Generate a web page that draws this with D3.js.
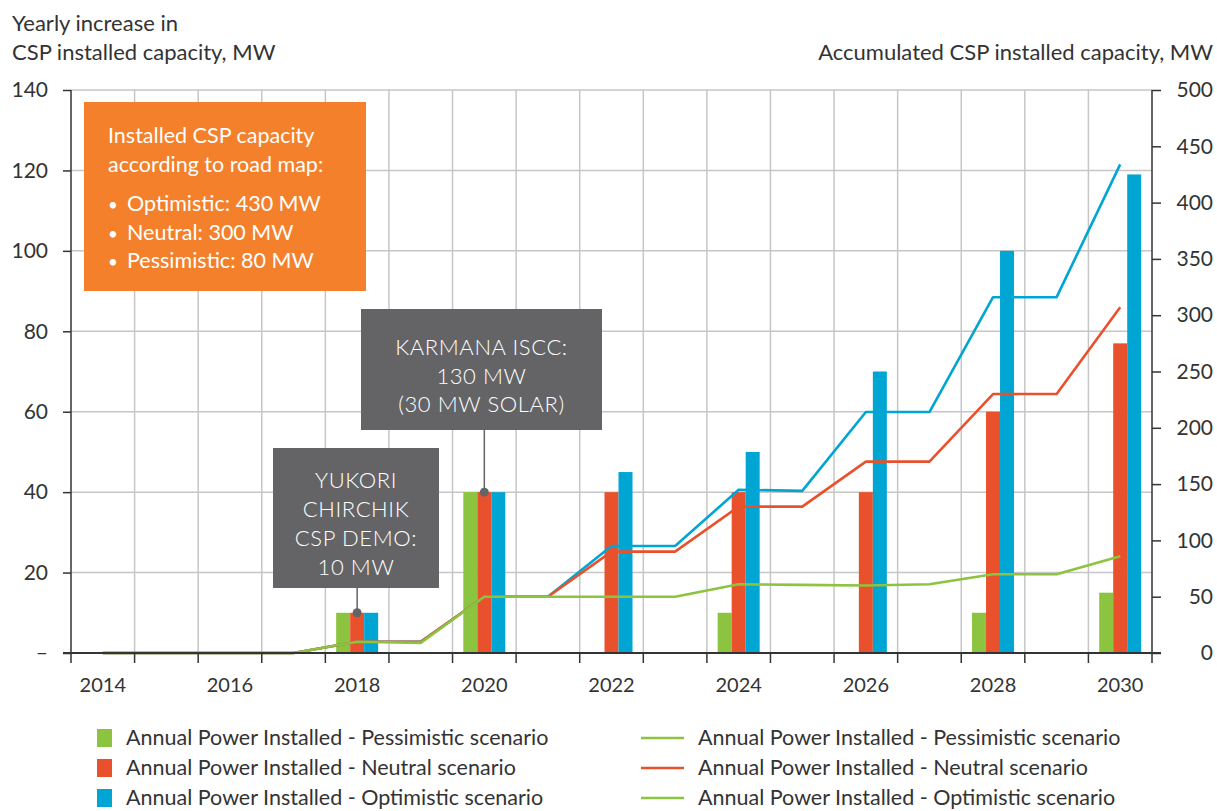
<!DOCTYPE html>
<html>
<head>
<meta charset="utf-8">
<script src="https://cdn.jsdelivr.net/npm/d3@7"></script>
<style>
  body { margin: 0; background: #ffffff; }
  svg text { font-family: Lato, "Noto Sans", sans-serif; }
</style>
</head>
<body>
<div id="chart"></div>
<script>
// data
const years = [2014, 2015, 2016, 2017, 2018, 2019, 2020, 2021, 2022, 2023, 2024, 2025, 2026, 2027, 2028, 2029, 2030];
const yearLabels = [2014, 2016, 2018, 2020, 2022, 2024, 2026, 2028, 2030];

// yearly increase (bars, left axis)
const pessimisticBars = [0, 0, 0, 0, 10, 0, 40, 0, 0, 0, 10, 0, 0, 0, 10, 0, 15];
const neutralBars     = [0, 0, 0, 0, 10, 0, 40, 0, 40, 0, 40, 0, 40, 0, 60, 0, 77];
const optimisticBars  = [0, 0, 0, 0, 10, 0, 40, 0, 45, 0, 50, 0, 70, 0, 100, 0, 119];

// accumulated capacity (lines, right axis)
const pessimisticTotal = [0, 0, 0, 0, 10, 9, 50, 50, 50, 50, 61, 60.5, 60, 61, 70, 70, 86];
const neutralTotal     = [0, 0, 0, 0, 10, 10, 50, 50, 90, 90, 130, 130, 170, 170, 230, 230, 307];
const optimisticTotal  = [0, 0, 0, 0, 10, 10, 50, 50, 95, 95, 145, 144, 214, 214, 316, 316, 434];

const leftTicks = [0, 20, 40, 60, 80, 100, 120, 140];
const rightTicks = [0, 50, 100, 150, 200, 250, 300, 350, 400, 450, 500];

const series = ["pess", "neut", "opt"];
const colors = { pess: "#8cc43f", neut: "#e9512c", opt: "#00a6d3" };

const legendBars = ["Annual Power Installed - Pessimistic scenario",
                    "Annual Power Installed - Neutral scenario",
                    "Annual Power Installed - Optimistic scenario"];
const legendLines = ["Annual Power Installed - Pessimistic scenario",
                     "Annual Power Installed - Neutral scenario",
                     "Annual Power Installed - Optimistic scenario"];
const legendLineColors = [colors.pess, colors.neut, colors.pess];

const width = 1217, height = 811;
const margin = ({top: 90, right: 65, bottom: 158, left: 71});

const svg = d3.select("#chart").append("svg")
    .attr("width", width).attr("height", height);

const x0 = d3.scaleBand()
    .domain(years)
    .range([margin.left, width - margin.right])
    .padding(0);
const bw = x0.bandwidth();
const groupW = 42;
const x1 = d3.scaleBand()
    .domain(series)
    .range([(bw - groupW) / 2, (bw + groupW) / 2]);

const yL = d3.scaleLinear().domain([0, 140]).range([height - margin.bottom, margin.top]);
const yR = d3.scaleLinear().domain([0, 500]).range([height - margin.bottom, margin.top]);

const x0L = margin.left, x0R = width - margin.right;
const yBase = height - margin.bottom;

// grid
const grid = svg.append("g").attr("stroke", "#c6c6c6").attr("stroke-width", 1.5);
grid.selectAll(".hg")
  .data(leftTicks.filter(d => d > 0))
  .join("line")
    .attr("x1", x0L).attr("x2", x0R)
    .attr("y1", d => yL(d)).attr("y2", d => yL(d));
grid.selectAll(".vg")
  .data(years.slice(1))
  .join("line")
    .attr("x1", d => x0(d)).attr("x2", d => x0(d))
    .attr("y1", margin.top).attr("y2", yBase);

// bars
const barData = years.map((yr, i) => ({year: yr, pess: pessimisticBars[i], neut: neutralBars[i], opt: optimisticBars[i]}));
svg.append("g")
  .selectAll("g")
  .data(barData)
  .join("g")
    .attr("transform", d => `translate(${x0(d.year)},0)`)
  .selectAll("rect")
  .data(d => series.map(k => ({key: k, value: d[k]})).filter(e => e.value > 0))
  .join("rect")
    .attr("x", d => x1(d.key))
    .attr("width", x1.bandwidth())
    .attr("y", d => yL(d.value))
    .attr("height", d => yBase - yL(d.value))
    .attr("fill", d => colors[d.key]);

// lines
const line = d3.line()
    .x((d, i) => x0(years[i]) + bw / 2)
    .y(d => yR(d));
[[optimisticTotal, colors.opt], [neutralTotal, colors.neut], [pessimisticTotal, colors.pess]].forEach(([vals, c]) => {
  svg.append("path")
    .datum(vals)
    .attr("fill", "none")
    .attr("stroke", c)
    .attr("stroke-width", 2.6)
    .attr("stroke-linejoin", "round")
    .attr("d", line);
});

// axes
const axisColor = "#333";
const leftAxis = svg.append("g")
    .attr("transform", `translate(${x0L},0)`)
    .call(d3.axisLeft(yL).tickValues(leftTicks).tickSize(8).tickPadding(15)
      .tickFormat(d => d === 0 ? "–" : d))
    .call(g => g.select(".domain").remove());
leftAxis.selectAll("line").attr("stroke", axisColor).attr("stroke-width", 1.5);
leftAxis.selectAll("text").style("font-size", "21px").attr("fill", "#333");

const rightAxis = svg.append("g")
    .attr("transform", `translate(${x0R},0)`)
    .call(d3.axisRight(yR).tickValues(rightTicks).tickSize(9))
    .call(g => g.select(".domain").remove());
rightAxis.selectAll("line").attr("stroke", axisColor).attr("stroke-width", 1.5);
rightAxis.selectAll("text").style("font-size", "21px").attr("fill", "#333")
    .attr("text-anchor", "end").attr("x", 61);

const bottomAxis = svg.append("g")
    .attr("transform", `translate(0,${yBase})`)
    .call(d3.axisBottom(x0).tickValues(yearLabels).tickSize(0).tickPadding(25))
    .call(g => g.select(".domain").remove());
bottomAxis.selectAll("text").style("font-size", "20px").attr("fill", "#333");

svg.append("g").attr("stroke", axisColor).attr("stroke-width", 1.5)
  .selectAll("line")
  .data(years.map(d => x0(d)).concat([x0R]))
  .join("line")
    .attr("x1", d => d).attr("x2", d => d)
    .attr("y1", yBase).attr("y2", yBase + 10);

// axis lines
svg.append("line").attr("x1", x0L).attr("x2", x0L).attr("y1", margin.top).attr("y2", yBase)
  .attr("stroke", axisColor).attr("stroke-width", 1.5);
svg.append("line").attr("x1", x0R).attr("x2", x0R).attr("y1", margin.top).attr("y2", yBase)
  .attr("stroke", axisColor).attr("stroke-width", 1.5);
svg.append("line").attr("x1", x0L - 8).attr("x2", x0R + 9).attr("y1", yBase).attr("y2", yBase)
  .attr("stroke", axisColor).attr("stroke-width", 1.8);

// axis titles
const titles = svg.append("g").attr("fill", "#333").style("font-size", "22px");
titles.append("text").attr("x", 12).attr("y", 31).text("Yearly increase in");
titles.append("text").attr("x", 12).attr("y", 60).text("CSP installed capacity, MW");
titles.append("text").attr("x", 1213).attr("y", 60).attr("text-anchor", "end")
  .text("Accumulated CSP installed capacity, MW");

// road map box
const box = svg.append("g");
box.append("rect").attr("x", 84).attr("y", 102).attr("width", 282).attr("height", 189)
  .attr("fill", "#f4802b");
const boxText = box.append("g").attr("fill", "#fff").style("font-size", "21.5px");
boxText.append("text").attr("x", 108).attr("y", 143).text("Installed CSP capacity");
boxText.append("text").attr("x", 108).attr("y", 172).text("according to road map:");
[["Optimistic: 430 MW", 211], ["Neutral: 300 MW", 240], ["Pessimistic: 80 MW", 268]].forEach(([t, y]) => {
  boxText.append("text").attr("x", 108).attr("y", y).style("font-size", "17px").text("•");
  boxText.append("text").attr("x", 127).attr("y", y).text(t);
});

// project callouts
function callout(year, value, bx, by, bwid, bht, lines, lineY0, lineStep) {
  const px = x0(year) + x1("neut") + x1.bandwidth() / 2;
  const py = yL(value);
  const g = svg.append("g");
  g.append("line").attr("x1", px).attr("x2", px).attr("y1", by + bht).attr("y2", py)
    .attr("stroke", "#646466").attr("stroke-width", 1.5);
  g.append("circle").attr("cx", px).attr("cy", py).attr("r", 4.5).attr("fill", "#646466");
  g.append("rect").attr("x", bx).attr("y", by).attr("width", bwid).attr("height", bht)
    .attr("fill", "#646466");
  lines.forEach((t, i) => {
    g.append("text").attr("x", bx + bwid / 2).attr("y", lineY0 + i * lineStep)
      .attr("text-anchor", "middle").attr("fill", "#fff")
      .style("font-size", "22px").style("font-weight", 300)
      .style("letter-spacing", "0.6px").text(t);
  });
}
callout(2020, 40, 361, 309, 241, 121, ["KARMANA ISCC:", "130 MW", "(30 MW SOLAR)"], 355, 28.5);
callout(2018, 10, 273, 448, 166, 140, ["YUKORI", "CHIRCHIK", "CSP DEMO:", "10 MW"], 488, 29);

// legend
const legend = svg.append("g").style("font-size", "21.5px").attr("fill", "#333");
legendBars.forEach((t, i) => {
  const cy = 738 + i * 30;
  legend.append("rect").attr("x", 97).attr("y", cy - 9).attr("width", 15).attr("height", 18)
    .attr("fill", colors[series[i]]);
  legend.append("text").attr("x", 126).attr("y", cy + 7).text(t);
});
legendLines.forEach((t, i) => {
  const cy = 738 + i * 30;
  legend.append("line").attr("x1", 641).attr("x2", 684).attr("y1", cy).attr("y2", cy)
    .attr("stroke", legendLineColors[i]).attr("stroke-width", 2.6);
  legend.append("text").attr("x", 698).attr("y", cy + 7).text(t);
});
</script>
</body>
</html>
